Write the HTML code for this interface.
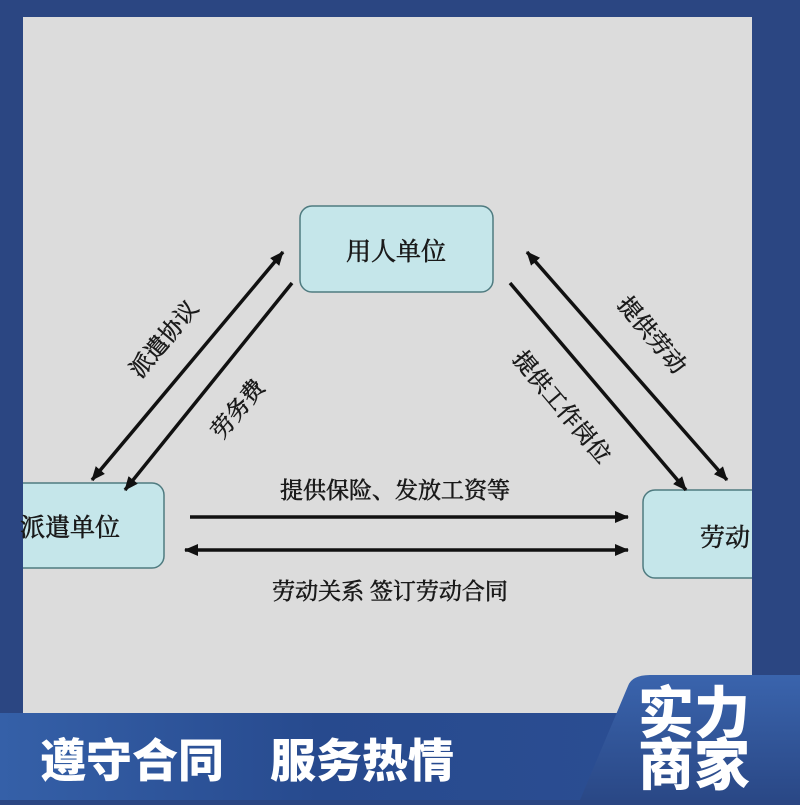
<!DOCTYPE html>
<html><head><meta charset="utf-8"><style>
body{margin:0;width:800px;height:800px;overflow:hidden;background:#2b4682;font-family:"Liberation Serif","Noto Serif CJK SC",serif;}
</style></head><body>
<svg width="800" height="800" viewBox="0 0 800 800" xmlns="http://www.w3.org/2000/svg">
<defs>
<marker id="b" markerWidth="14" markerHeight="12" refX="13" refY="6" orient="auto-start-reverse" markerUnits="userSpaceOnUse"><path d="M0,0 L14,6 L0,12 Z" fill="#111"/></marker>
<linearGradient id="g" x1="0" y1="0" x2="1" y2="0"><stop offset="0" stop-color="#3560a8"/><stop offset="0.4" stop-color="#274a8e"/><stop offset="1" stop-color="#2d4f94"/></linearGradient>
<linearGradient id="g2" x1="0" y1="0" x2="0" y2="1"><stop offset="0" stop-color="#3a64ad"/><stop offset="1" stop-color="#2a4886"/></linearGradient>
</defs>
<rect x="23" y="17" width="729" height="700" fill="#dcdcdc"/>
<g stroke="#4f7b80" stroke-width="1.5" fill="#c5e6ea">
<rect x="300" y="206" width="193" height="86" rx="12"/>
<rect x="5" y="483" width="159" height="85" rx="12"/>
<rect x="643" y="490" width="130" height="88" rx="12"/>
</g>
<rect x="0" y="470" width="23" height="120" fill="#2b4682"/>
<rect x="752" y="470" width="48" height="120" fill="#2b4682"/>
<g font-size="25" fill="#1a1a1a" stroke="#1a1a1a" stroke-width="0.6">
<text x="396" y="260" text-anchor="middle">用人单位</text>
<text x="20" y="536">派遣单位</text>
<text x="700" y="546">劳动</text>
<text x="395" y="498" text-anchor="middle" font-size="23">提供保险、发放工资等</text>
<text x="390" y="599" text-anchor="middle" font-size="23">劳动关系 签订劳动合同</text>
<text transform="translate(170,344) rotate(-50)" text-anchor="middle" font-size="23">派遣协议</text>
<text transform="translate(244,414) rotate(-50)" text-anchor="middle" font-size="23">劳务费</text>
<text transform="translate(646,340) rotate(50)" text-anchor="middle" font-size="23">提供劳动</text>
<text transform="translate(556,412) rotate(50)" text-anchor="middle" font-size="23">提供工作岗位</text>
</g>
<g stroke="#111" stroke-width="3.5">
<line x1="283" y1="252" x2="92" y2="480" marker-start="url(#b)" marker-end="url(#b)"/>
<line x1="292" y1="283" x2="125" y2="490" marker-end="url(#b)"/>
<line x1="510" y1="283" x2="686" y2="490" marker-end="url(#b)"/>
<line x1="527" y1="252" x2="727" y2="480" marker-start="url(#b)" marker-end="url(#b)"/>
<line x1="190" y1="517" x2="628" y2="517" marker-end="url(#b)"/>
<line x1="185" y1="550" x2="628" y2="550" marker-start="url(#b)" marker-end="url(#b)"/>
</g>
<rect x="0" y="713" width="800" height="87" fill="url(#g)"/>
<path d="M628,686 Q632,675 650,675 L800,675 L800,800 L580,800 Z" fill="url(#g2)"/>
<g font-family="'Liberation Sans','Noto Sans CJK SC',sans-serif" font-weight="900" fill="#fff">
<text x="40" y="777" font-size="46">遵守合同</text>
<text x="270" y="777" font-size="46">服务热情</text>
<text x="638" y="733" font-size="56">实力</text>
<text x="638" y="785" font-size="56">商家</text>
</g>
</svg>
</body></html>
